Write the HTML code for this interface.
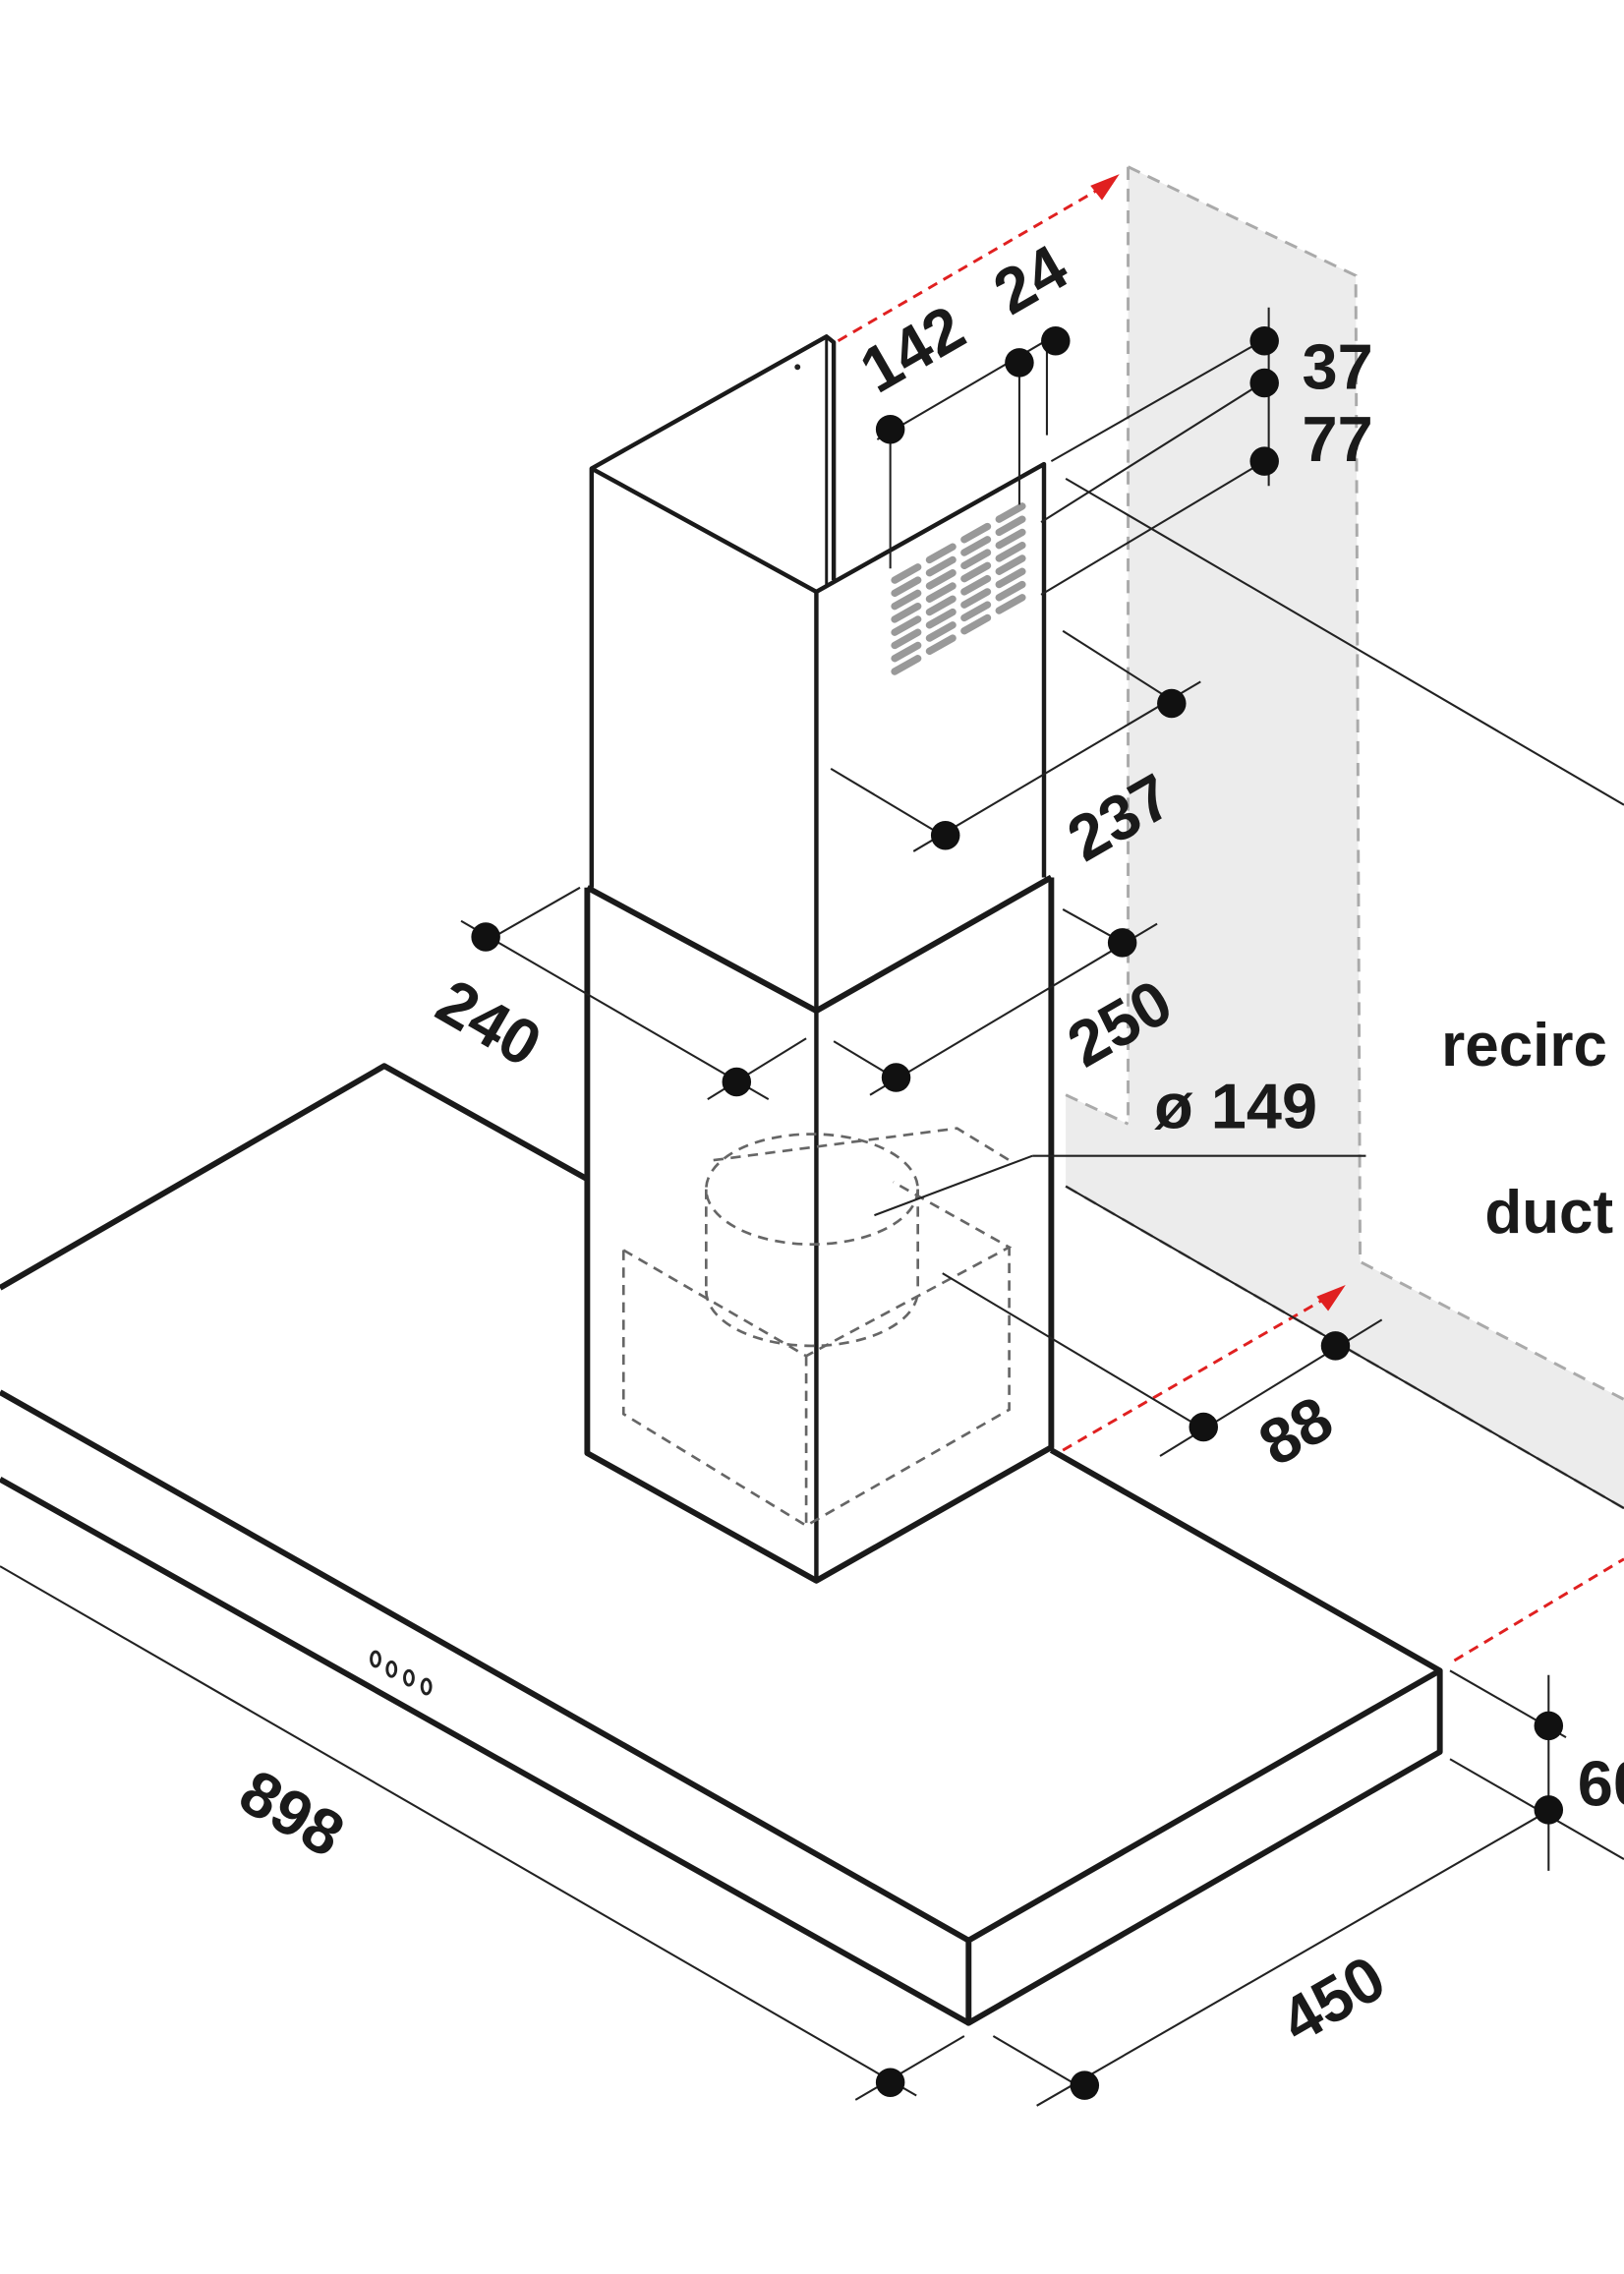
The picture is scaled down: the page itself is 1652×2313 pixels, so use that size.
<!DOCTYPE html>
<html><head><style>html,body{margin:0;padding:0;background:#fff}svg{display:block}</style></head><body>
<svg width="1652" height="2313" viewBox="0 0 1120 1568" xmlns="http://www.w3.org/2000/svg" font-family="Liberation Sans, sans-serif" font-weight="bold">
<!-- wall gray -->
<polygon points="778,115 935,190 938,870 1120,965 1120,1040 735,818 735,755 778,775" fill="#ececec"/>
<g fill="none" stroke="#aaa" stroke-width="2" stroke-dasharray="9,6">
<polyline points="778,115 935,190 938,870 1120,965"/>
<line x1="778" y1="115" x2="778" y2="775"/>
<polyline points="735,818 1120,1040"/>
<polyline points="735,755 778,775"/>
</g>
<!-- red dashed -->
<g stroke="#e02020" stroke-width="2" stroke-dasharray="7,5" fill="none">
<line x1="578" y1="235" x2="762" y2="128"/>
<line x1="733" y1="1000" x2="918" y2="893"/>
<line x1="1003" y1="1145" x2="1120" y2="1075"/>
</g>
<polygon points="772,120 752,128 760,138" fill="#e02020"/>
<polygon points="928,886 908,894 916,904" fill="#e02020"/>
<!-- slab -->
<g fill="none" stroke="#1a1a1a" stroke-width="4" stroke-linejoin="round">
<polyline points="0,888 265,735 405,813"/>
<polyline points="725,1000 993,1152 993,1208 668,1395 668,1338 993,1152"/>
<line x1="0" y1="960" x2="668" y2="1338"/>
<line x1="0" y1="1020" x2="668" y2="1395"/>
<!-- chimney lower -->
<polyline points="405,612 405,1002 563,1090 725,998 725,605"/>
<polyline points="405,612 563,697 725,605"/>
<line x1="563" y1="697" x2="563" y2="1090" stroke-width="3"/>
<!-- upper -->
<polyline points="408,612 408,323 563,408 720,320 720,605" stroke-width="3"/>
<line x1="563" y1="408" x2="563" y2="697" stroke-width="3"/>
<polyline points="408,323 570,232 575,236 575,400" stroke-width="3"/>
<line x1="570" y1="232" x2="570" y2="404" stroke-width="2"/>
</g>
<circle cx="550" cy="253" r="2" fill="#222"/>
<!-- controls -->
<g fill="none" stroke="#222" stroke-width="2"><ellipse cx="259" cy="1144" rx="3" ry="5"/><ellipse cx="270" cy="1151" rx="3" ry="5"/><ellipse cx="282" cy="1157" rx="3" ry="5"/><ellipse cx="294" cy="1163" rx="3" ry="5"/></g>
<!-- grille -->
<g stroke="#999" stroke-width="5" stroke-linecap="round" fill="none">
<path d="M617,400 l16,-9 M617,409 l16,-9 M617,418 l16,-9 M617,427 l16,-9 M617,436 l16,-9 M617,445 l16,-9 M617,454 l16,-9 M617,463 l16,-9"/>
<path d="M641,386 l16,-9 M641,395 l16,-9 M641,404 l16,-9 M641,413 l16,-9 M641,422 l16,-9 M641,431 l16,-9 M641,440 l16,-9 M641,449 l16,-9"/>
<path d="M665,372 l16,-9 M665,381 l16,-9 M665,390 l16,-9 M665,399 l16,-9 M665,408 l16,-9 M665,417 l16,-9 M665,426 l16,-9 M665,435 l16,-9"/>
<path d="M689,358 l16,-9 M689,367 l16,-9 M689,376 l16,-9 M689,385 l16,-9 M689,394 l16,-9 M689,403 l16,-9 M689,412 l16,-9 M689,421 l16,-9"/>
</g>
<!-- hidden motor -->
<g fill="none" stroke="#666" stroke-width="1.8" stroke-dasharray="7,5">
<ellipse cx="560" cy="820" rx="73" ry="38"/>
<path d="M487,820 V890 M633,820 V890"/>
<path d="M487,890 A73,38 0 0 0 633,890"/>
<polyline points="430,862 430,975 556,1052 696,972 696,860"/>
<polyline points="430,862 556,935 696,860 616,815"/>
<line x1="556" y1="935" x2="556" y2="1052"/>
<polyline points="492,800 660,778 696,800"/>
</g>
<!-- dimension lines -->
<g stroke="#222" stroke-width="1.4" fill="none">
<line x1="605" y1="303" x2="728" y2="231"/>
<line x1="614" y1="296" x2="614" y2="392"/>
<line x1="703" y1="250" x2="703" y2="348"/>
<line x1="722" y1="236" x2="722" y2="300"/>
<line x1="875" y1="212" x2="875" y2="335"/>
<line x1="725" y1="318" x2="872" y2="234"/>
<line x1="718" y1="360" x2="872" y2="263"/>
<line x1="718" y1="410" x2="872" y2="318"/>
<line x1="735" y1="330" x2="1120" y2="555"/>
<line x1="733" y1="435" x2="810" y2="484"/>
<line x1="573" y1="530" x2="650" y2="576"/>
<line x1="630" y1="587" x2="828" y2="470"/>
<line x1="318" y1="635" x2="530" y2="758"/>
<line x1="330" y1="652" x2="400" y2="612"/>
<line x1="488" y1="758" x2="556" y2="716"/>
<line x1="575" y1="718" x2="620" y2="745"/>
<line x1="600" y1="755" x2="798" y2="637"/>
<line x1="733" y1="627" x2="778" y2="652"/>
<line x1="603" y1="838" x2="712" y2="797"/>
<line x1="712" y1="797" x2="942" y2="797"/>
<line x1="650" y1="878" x2="836" y2="989"/>
<line x1="800" y1="1004" x2="953" y2="910"/>
<line x1="735" y1="818" x2="1120" y2="1040"/>
<line x1="1000" y1="1152" x2="1080" y2="1198"/>
<line x1="1000" y1="1213" x2="1120" y2="1282"/>
<line x1="1068" y1="1155" x2="1068" y2="1290"/>
<line x1="0" y1="1080" x2="632" y2="1445"/>
<line x1="590" y1="1448" x2="665" y2="1404"/>
<line x1="685" y1="1404" x2="755" y2="1445"/>
<line x1="715" y1="1452" x2="1062" y2="1252"/>
</g>
<g fill="#111">
<circle cx="614" cy="296" r="10"/><circle cx="703" cy="250" r="10"/><circle cx="728" cy="235" r="10"/>
<circle cx="872" cy="235" r="10"/><circle cx="872" cy="264" r="10"/><circle cx="872" cy="318" r="10"/>
<circle cx="808" cy="485" r="10"/><circle cx="652" cy="576" r="10"/>
<circle cx="335" cy="646" r="10"/><circle cx="508" cy="746" r="10"/>
<circle cx="618" cy="743" r="10"/><circle cx="774" cy="650" r="10"/>
<circle cx="921" cy="928" r="10"/><circle cx="830" cy="984" r="10"/>
<circle cx="1068" cy="1190" r="10"/><circle cx="1068" cy="1248" r="10"/>
<circle cx="614" cy="1436" r="10"/><circle cx="748" cy="1438" r="10"/>
</g>
<!-- labels -->
<g fill="#1a1a1a" font-size="44">
<text transform="translate(605,272) rotate(-30)">142</text>
<text transform="translate(697,218) rotate(-30)">24</text>
<text x="898" y="268">37</text>
<text x="898" y="318">77</text>
<text transform="translate(748,595) rotate(-30)">237</text>
<text transform="translate(298,700) rotate(30)">240</text>
<text transform="translate(748,737) rotate(-30)">250</text>
<text x="796" y="778">ø 149</text>
<text x="994" y="735" font-size="42">recirc</text>
<text x="1024" y="850" font-size="42">duct</text>
<text transform="translate(880,1012) rotate(-30)">88</text>
<text transform="translate(1088,1245)">60</text>
<text transform="translate(162,1245) rotate(30)">898</text>
<text transform="translate(895,1410) rotate(-30)">450</text>
</g>
</svg>
</body></html>
